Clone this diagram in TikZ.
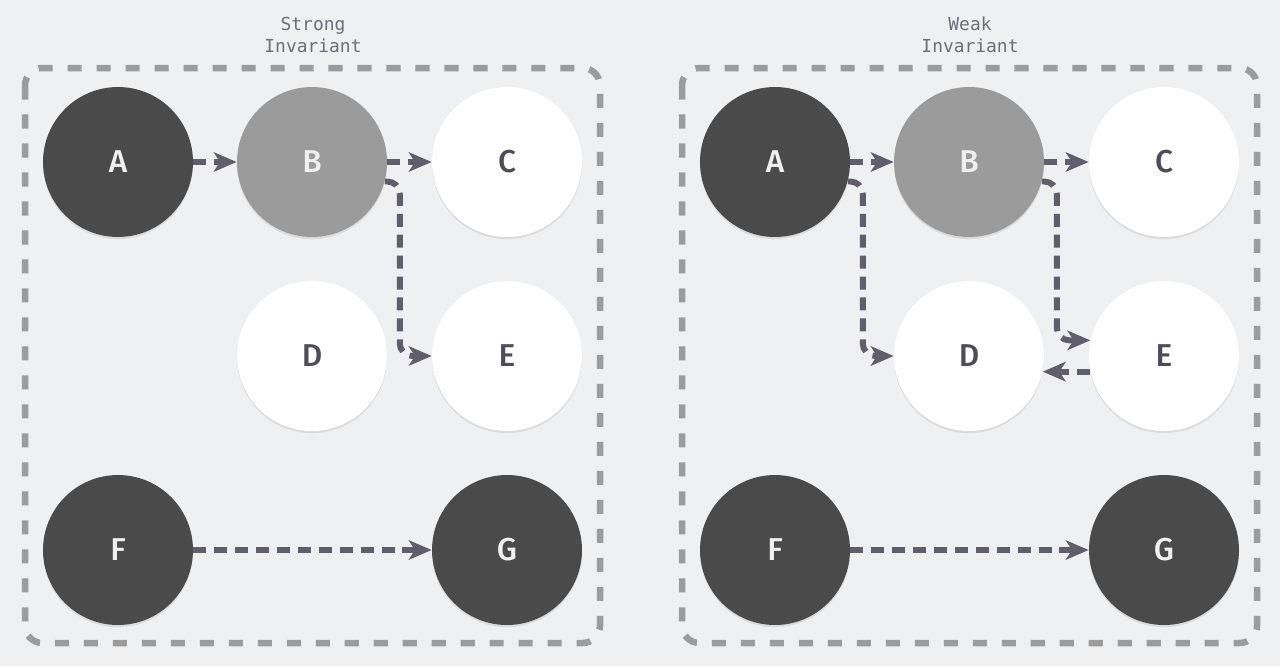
\documentclass[tikz,border=0pt]{standalone}
\usepackage{fontspec}
\setmainfont{Fira Sans}[UprightFont=* Medium]
\setmonofont{DejaVu Sans Mono}
\usetikzlibrary{arrows.meta,shadows}

\definecolor{bggrey}{RGB}{239,240,242}
\definecolor{darkfill}{RGB}{74,74,74}
\definecolor{midfill}{RGB}{155,155,155}
\definecolor{linkcol}{RGB}{98,93,108}
\definecolor{framecol}{RGB}{156,156,156}
\definecolor{titlecol}{RGB}{110,110,120}
\definecolor{lettercol}{RGB}{78,76,88}

\begin{document}
\begin{tikzpicture}[x=0.02cm,y=-0.02cm,
  every node/.style={font=\fontsize{18}{18}\selectfont},
  ball/.style={circle,minimum size=3cm,inner sep=0pt,
    drop shadow={shadow xshift=0pt,shadow yshift=-1.2pt,opacity=0.18}},
  black ball/.style={ball,fill=darkfill,text=white!94!black},
  grey ball/.style={ball,fill=midfill,text=white!94!black},
  white ball/.style={ball,fill=white,text=lettercol},
  title/.style={align=center,text=titlecol,
    font=\ttfamily\fontsize{10.2}{12.5}\selectfont},
  frame/.style={draw=framecol,line width=3.7pt,dash pattern=on 8pt off 8.5pt,
    rounded corners=0.35cm},
  link/.style={draw=linkcol,line width=3.4pt,dash pattern=on 7.4pt off 4.5pt,
    rounded corners=0.25cm,-{Stealth[length=13pt,width=11pt,inset=3.5pt]}},]

  % background
  \fill[bggrey] (0,0) rectangle (1280,666);

  % strong invariant
  \node[title] (stitle) at (313,35) {Strong\\Invariant};
  \draw[frame] (25,68) rectangle (600,643);
  \node[black ball] (sA) at (118,162) {A};
  \node[grey ball] (sB) at (312,162) {B};
  \node[white ball] (sC) at (507,162) {C};
  \node[white ball] (sD) at (312,356) {D};
  \node[white ball] (sE) at (507,356) {E};
  \node[black ball] (sF) at (118,550) {F};
  \node[black ball] (sG) at (507,550) {G};

  \draw[link] (sA) -- (sB);
  \draw[link] (sB) -- (sC);
  \draw[link] (sB.-15) -- ++(15,0) |- (sE.west);
  \draw[link] (sF) -- (sG);

  % weak invariant
  \node[title] (wtitle) at (970,35) {Weak\\Invariant};
  \draw[frame] (682,68) rectangle (1257,643);
  \node[black ball] (wA) at (775,162) {A};
  \node[grey ball] (wB) at (969,162) {B};
  \node[white ball] (wC) at (1164,162) {C};
  \node[white ball] (wD) at (969,356) {D};
  \node[white ball] (wE) at (1164,356) {E};
  \node[black ball] (wF) at (775,550) {F};
  \node[black ball] (wG) at (1164,550) {G};

  \draw[link] (wA) -- (wB);
  \draw[link] (wB) -- (wC);
  \draw[link] (wA.-15) -- ++(15,0) |- (wD.west);
  \draw[link] (wB.-15) -- ++(15,0) |- (wE.168);
  \draw[link] (wE.192) -- (wD.-12);
  \draw[link] (wF) -- (wG);

\end{tikzpicture}
\end{document}
